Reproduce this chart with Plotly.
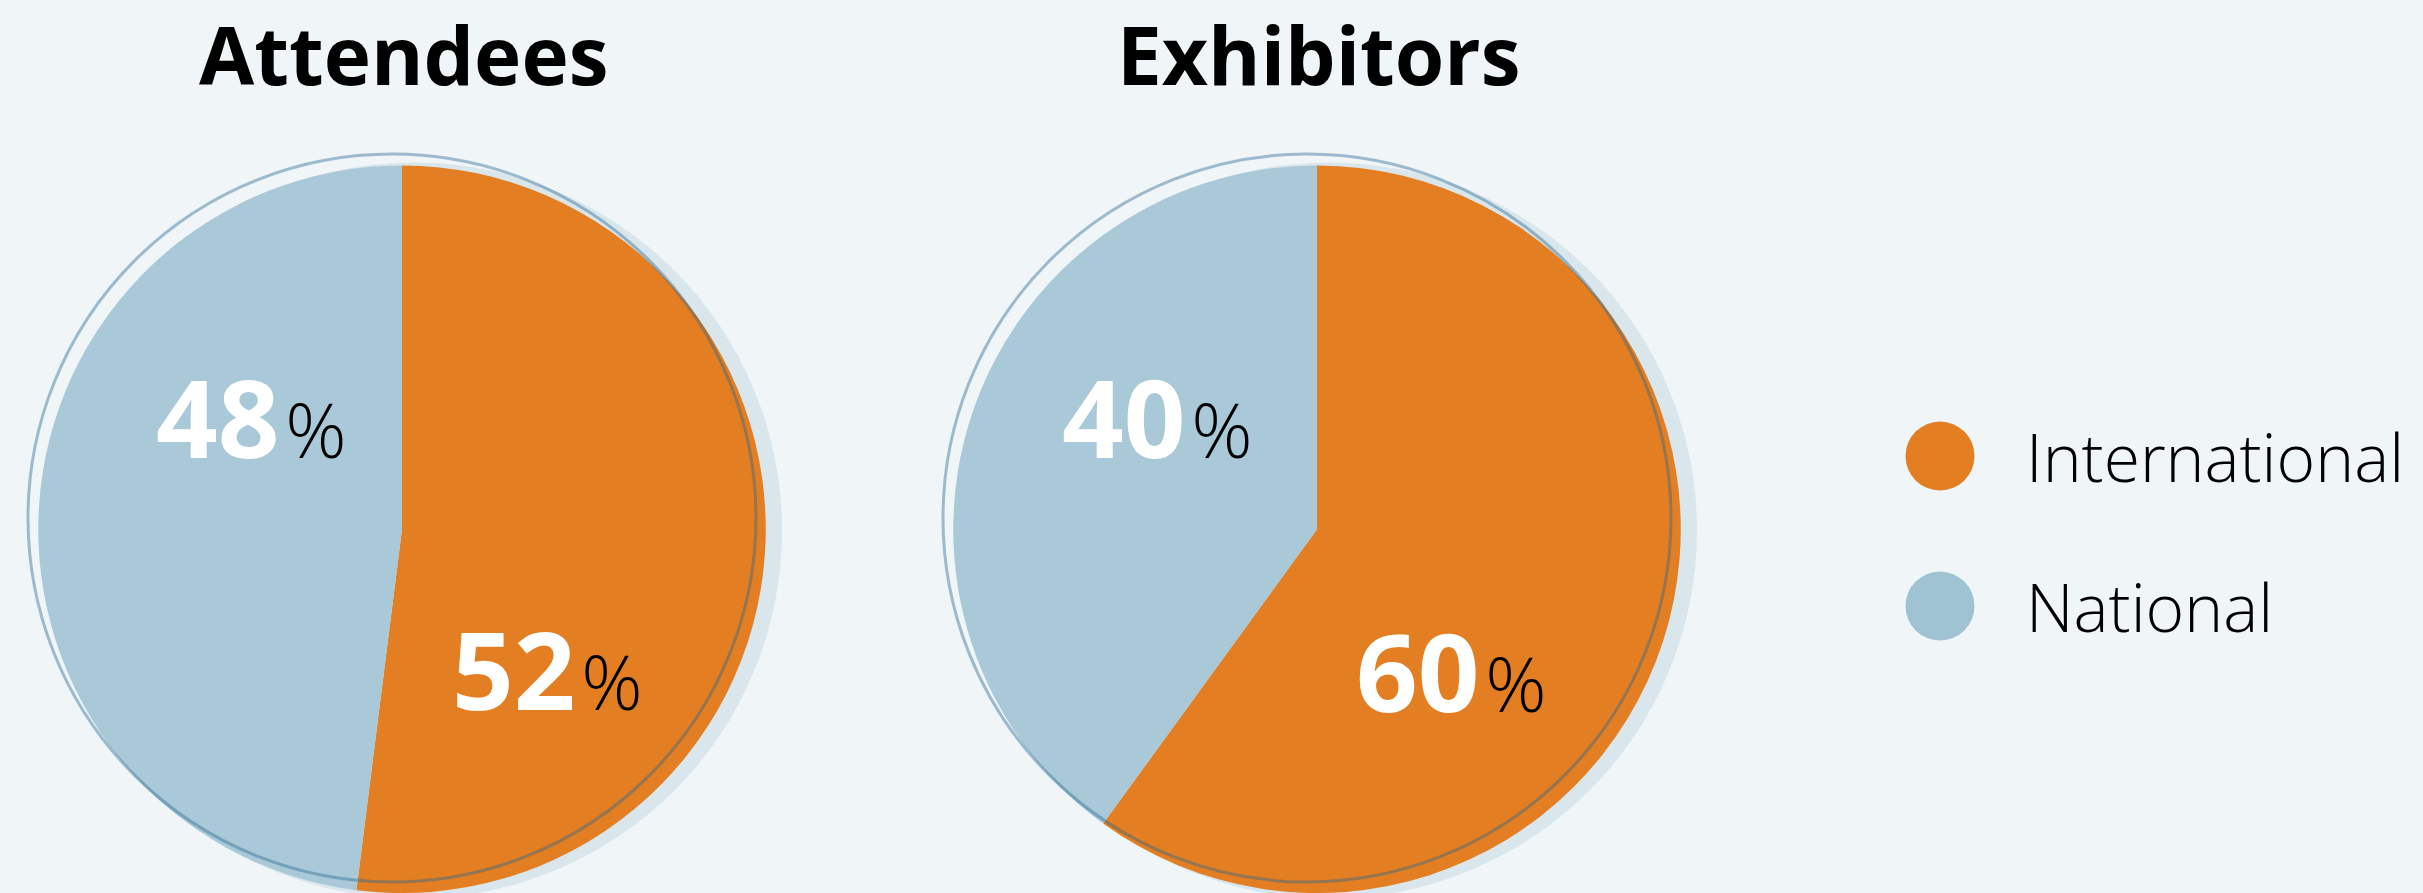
import plotly.graph_objects as go

# ---------------- data ----------------
titles = ["Attendees", "Exhibitors"]
categories = ["International", "National"]
attendees = [52, 48]
exhibitors = [60, 40]
slice_colors = ["#E37E22", "#A9C9D8"]
legend_colors = ["#E37E22", "#A0C3D3"]

# ---------------- layout constants (pixels) ----------------
W, H = 2423, 893
BG = "#F0F5F8"
FONT = "Open Sans"
R = 364
centers = [(402, 529.5), (1317, 529.5)]
# label anchor points (px) for each pie: [International, National]
label_pos = [[(547, 668), (251, 416)], [(1451, 670), (1157, 416)]]


def px(x):
    return x / W


def py(y):
    return 1 - y / H


fig = go.Figure()

series = [attendees, exhibitors]
for (cx, cy), vals, name in zip(centers, series, titles):
    fig.add_trace(go.Pie(
        labels=categories,
        values=vals,
        name=name,
        sort=False,
        direction="clockwise",
        rotation=0,
        marker=dict(colors=slice_colors, line=dict(width=0)),
        textinfo="none",
        hoverinfo="label+percent",
        showlegend=False,
        domain=dict(x=[px(cx - R), px(cx + R)], y=[max(0, py(cy + R)), py(cy - R)]),
    ))

shapes = []
annotations = []
for i, (cx, cy) in enumerate(centers):
    # soft shadow disc behind the pie
    sx, sy, sr = cx + 12, cy + 1, R + 4
    shapes.append(dict(type="circle", xref="paper", yref="paper", layer="below",
                       x0=px(sx - sr), x1=px(sx + sr), y0=py(sy + sr), y1=py(sy - sr),
                       fillcolor="#D9E6EC", line=dict(width=0)))
    # thin offset outline ring
    ox, oy = cx - 10, cy - 11.5
    shapes.append(dict(type="circle", xref="paper", yref="paper", layer="above",
                       x0=px(ox - R), x1=px(ox + R), y0=py(oy + R), y1=py(oy - R),
                       fillcolor="rgba(0,0,0,0)",
                       line=dict(color="rgba(40,105,145,0.42)", width=3)))
    # title
    annotations.append(dict(text=titles[i], x=px(cx + 1), y=py(53), xref="paper", yref="paper",
                            xanchor="center", yanchor="middle", showarrow=False,
                            font=dict(family=FONT, size=80, color="#000000", weight=700)))
    # percentage labels
    for j, v in enumerate(series[i]):
        lx, ly = label_pos[i][j]
        txt = (f"{v}<span style='font-size:22px'> </span>"
               f"<span style='font-size:76px;font-weight:300;color:#000000'>%</span>")
        annotations.append(dict(text=txt, x=px(lx), y=py(ly), xref="paper", yref="paper",
                                xanchor="center", yanchor="middle", showarrow=False,
                                font=dict(family=FONT, size=108, color="#FFFFFF", weight=700)))

# custom legend with large round markers
legend_y = [456, 606]
for cat, col, ly in zip(categories, legend_colors, legend_y):
    mx, mr = 1940, 34.5
    shapes.append(dict(type="circle", xref="paper", yref="paper", layer="above",
                       x0=px(mx - mr), x1=px(mx + mr), y0=py(ly + mr), y1=py(ly - mr),
                       fillcolor=col, line=dict(width=0)))
    annotations.append(dict(text=cat, x=px(2024), y=py(ly), xref="paper", yref="paper",
                            xanchor="left", yanchor="middle", showarrow=False,
                            font=dict(family=FONT, size=66, color="#000000", weight=300)))

fig.update_layout(
    width=W, height=H,
    margin=dict(l=0, r=0, t=0, b=0),
    paper_bgcolor=BG, plot_bgcolor=BG,
    shapes=shapes, annotations=annotations,
    showlegend=False,
)

fig.write_html("out.html",
               config={"displayModeBar": False},
               post_script="document.body.style.margin='0';document.body.style.overflow='hidden';")
